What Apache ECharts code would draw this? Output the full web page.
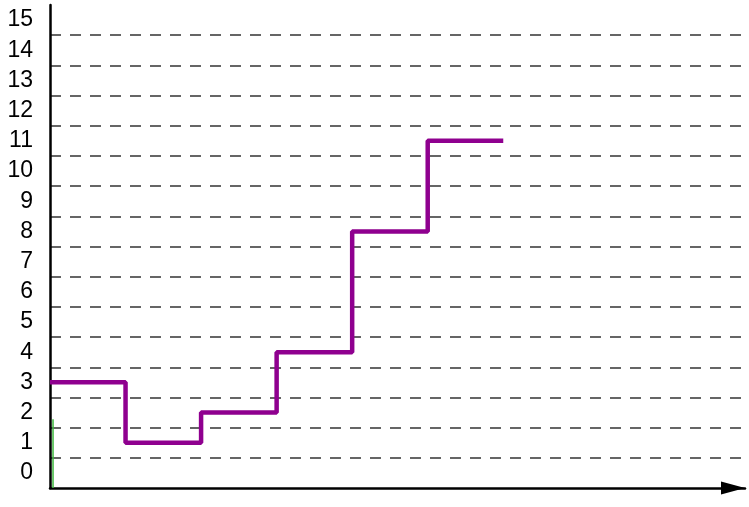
<!DOCTYPE html>
<html>
<head>
<meta charset="utf-8">
<script src="https://cdn.jsdelivr.net/npm/echarts@6/dist/echarts.min.js"></script>
<style>
html,body{margin:0;padding:0;background:#fff;}
#chart{width:749px;height:507px;}
</style>
</head>
<body>
<div id="chart"></div>
<script>
const yLabels = ['0','1','2','3','4','5','6','7','8','9','10','11','12','13','14','15'];
const stepX = [0, 1, 2, 3, 4, 5, 6];
const stepY = [3, 1, 2, 4, 8, 11, 11];
const greenX = [0.04, 0.04];
const greenY = [-0.5, 1.78];

const chart = echarts.init(document.getElementById('chart'), null, {renderer: 'canvas'});
chart.setOption({
  animation: false,
  backgroundColor: '#ffffff',
  grid: {left: 50, right: 4, top: 5, bottom: 19, containLabel: false},
  xAxis: {
    type: 'value', min: 0, max: 9.2,
    axisLine: {show: true, onZero: false, lineStyle: {color: '#000', width: 2.5},
      symbol: ['none', 'triangle'], symbolSize: [13, 24], symbolOffset: [0, -12]},
    axisTick: {show: false}, axisLabel: {show: false}, splitLine: {show: false}
  },
  yAxis: [{
    type: 'category', data: yLabels, boundaryGap: true,
    axisLine: {show: true, lineStyle: {color: '#000', width: 2.5}},
    axisTick: {show: false},
    axisLabel: {color: '#000', fontSize: 23, fontFamily: 'Liberation Sans, Arial, sans-serif', margin: 17},
    splitLine: {show: true, showMaxLine: false, showMinLine: false,
      lineStyle: {color: '#333', width: 1.5, type: [11, 9]}}
  }, {
    type: 'value', min: -0.5, max: 15.5, show: false,
    splitLine: {show: false}
  }],
  series: [{
    type: 'line', yAxisIndex: 1, step: 'end', symbol: 'none',
    data: stepX.map((x, i) => [x, stepY[i]]),
    lineStyle: {color: '#8f008f', width: 4.5}
  }, {
    type: 'line', yAxisIndex: 1, symbol: 'none',
    data: greenX.map((x, i) => [x, greenY[i]]),
    lineStyle: {color: '#3cb63c', width: 1.5}
  }]
});
</script>
</body>
</html>
